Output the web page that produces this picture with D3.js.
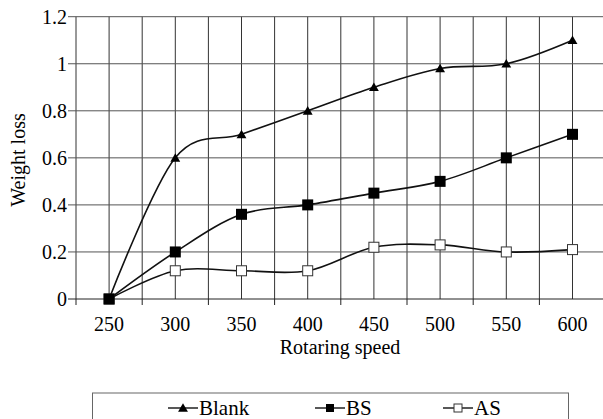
<!DOCTYPE html>
<html>
<head>
<meta charset="utf-8">
<script src="https://cdn.jsdelivr.net/npm/d3@7"></script>
<style>
  body { margin: 0; background: #fff; }
  svg { display: block; }
</style>
</head>
<body>
<svg width="603" height="419"></svg>
<script>
const speeds = [250, 300, 350, 400, 450, 500, 550, 600];
const blank = [0, 0.6, 0.7, 0.8, 0.9, 0.98, 1.0, 1.1];
const bs = [0, 0.2, 0.36, 0.4, 0.45, 0.5, 0.6, 0.7];
const as = [0, 0.12, 0.12, 0.12, 0.22, 0.23, 0.2, 0.21];
const yTicks = [0, 0.2, 0.4, 0.6, 0.8, 1, 1.2];

const series = [
  { name: "Blank", values: blank, marker: "triangle" },
  { name: "BS", values: bs, marker: "square" },
  { name: "AS", values: as, marker: "open" },
];

const plotLeft = 76, plotTop = 16.7, plotBottom = 299, step = 66.2;
const serif = "'Liberation Serif', serif";

const svg = d3.select("svg");

const x = d3.scaleBand()
  .domain(speeds)
  .range([plotLeft, plotLeft + step * speeds.length])
  .padding(0);

const y = d3.scaleLinear().domain([0, 1.2]).range([plotBottom, plotTop]);

const bw = x.bandwidth();
const xRight = plotLeft + step * speeds.length;

// vertical grid: band edges and band centres
const vLines = [];
speeds.forEach(function (s) {
  vLines.push(x(s));
  vLines.push(x(s) + bw / 2);
});
vLines.push(xRight);

svg.append("g")
  .selectAll("line")
  .data(vLines)
  .enter()
  .append("line")
  .attr("x1", d => d).attr("x2", d => d)
  .attr("y1", plotTop).attr("y2", plotBottom)
  .attr("stroke", "#333")
  .attr("stroke-width", 1);

// horizontal grid, extended left as tick marks
svg.append("g")
  .selectAll("line")
  .data(yTicks)
  .enter()
  .append("line")
  .attr("x1", plotLeft - 8).attr("x2", xRight)
  .attr("y1", d => y(d)).attr("y2", d => y(d))
  .attr("stroke", d => d === 0 ? "#222" : "#555")
  .attr("stroke-width", 1);

// x tick marks below the axis at band edges
svg.append("g")
  .selectAll("line")
  .data(speeds)
  .enter()
  .append("line")
  .attr("x1", d => x(d)).attr("x2", d => x(d))
  .attr("y1", plotBottom).attr("y2", plotBottom + 6)
  .attr("stroke", "#222");

// y tick labels
svg.append("g")
  .selectAll("text")
  .data(yTicks)
  .enter()
  .append("text")
  .attr("x", 67)
  .attr("y", d => y(d))
  .attr("dy", "0.35em")
  .attr("text-anchor", "end")
  .style("font-family", serif)
  .attr("font-size", 20)
  .text(d => d3.format("~g")(d));

// x tick labels
svg.append("g")
  .selectAll("text")
  .data(speeds)
  .enter()
  .append("text")
  .attr("x", d => x(d) + bw / 2)
  .attr("y", 331)
  .attr("text-anchor", "middle")
  .style("font-family", serif)
  .attr("font-size", 20)
  .text(d => d);

// axis titles
svg.append("text")
  .attr("x", 340)
  .attr("y", 354)
  .attr("text-anchor", "middle")
  .style("font-family", serif)
  .attr("font-size", 20)
  .text("Rotaring speed");

svg.append("text")
  .attr("transform", "translate(25,160) rotate(-90)")
  .attr("text-anchor", "middle")
  .style("font-family", serif)
  .attr("font-size", 20)
  .text("Weight loss");

// lines
const line = d3.line()
  .x((d, i) => x(speeds[i]) + bw / 2)
  .y(d => y(d))
  .curve(d3.curveCatmullRom.alpha(0));

svg.append("g")
  .selectAll("path")
  .data(series)
  .enter()
  .append("path")
  .attr("d", d => line(d.values))
  .attr("fill", "none")
  .attr("stroke", "#111")
  .attr("stroke-width", 1.6);

function drawMarker(g, type, cx, cy) {
  if (type === "triangle") {
    g.append("path")
      .attr("d", d3.symbol().type(d3.symbolTriangle).size(42)())
      .attr("transform", "translate(" + cx + "," + (cy + 1) + ")")
      .attr("fill", "#000");
  } else if (type === "square") {
    g.append("rect")
      .attr("x", cx - 5.5).attr("y", cy - 5.5)
      .attr("width", 11).attr("height", 11)
      .attr("fill", "#000");
  } else if (type === "squareSmall") {
    g.append("rect")
      .attr("x", cx - 4).attr("y", cy - 4)
      .attr("width", 8).attr("height", 8)
      .attr("fill", "#000");
  } else if (type === "openSmall") {
    g.append("rect")
      .attr("x", cx - 4).attr("y", cy - 4)
      .attr("width", 8).attr("height", 8)
      .attr("fill", "#fff")
      .attr("stroke", "#333")
      .attr("stroke-width", 1);
  } else {
    g.append("rect")
      .attr("x", cx - 5).attr("y", cy - 5)
      .attr("width", 10).attr("height", 10)
      .attr("fill", "#fff")
      .attr("stroke", "#333")
      .attr("stroke-width", 1);
  }
}

const markers = svg.append("g");
series.slice().reverse().forEach(function (s) {
  s.values.forEach(function (v, i) {
    drawMarker(markers, s.marker, x(speeds[i]) + bw / 2, y(v));
  });
});

// legend
const legend = svg.append("g");
legend.append("rect")
  .attr("x", 92.5).attr("y", 393)
  .attr("width", 476).attr("height", 40)
  .attr("fill", "#fff")
  .attr("stroke", "#666")
  .attr("stroke-width", 1);

const legendX = [168, 315, 443];
const legendMarker = { triangle: "triangle", square: "squareSmall", open: "openSmall" };
series.forEach(function (s, i) {
  const lx = legendX[i];
  legend.append("line")
    .attr("x1", lx).attr("x2", lx + 30)
    .attr("y1", 408).attr("y2", 408)
    .attr("stroke", "#111")
    .attr("stroke-width", 1.4);
  drawMarker(legend, legendMarker[s.marker], lx + 15, 408);
  legend.append("text")
    .attr("x", lx + 31)
    .attr("y", 415)
    .style("font-family", serif)
    .attr("font-size", 21)
    .text(s.name);
});
</script>
</body>
</html>
